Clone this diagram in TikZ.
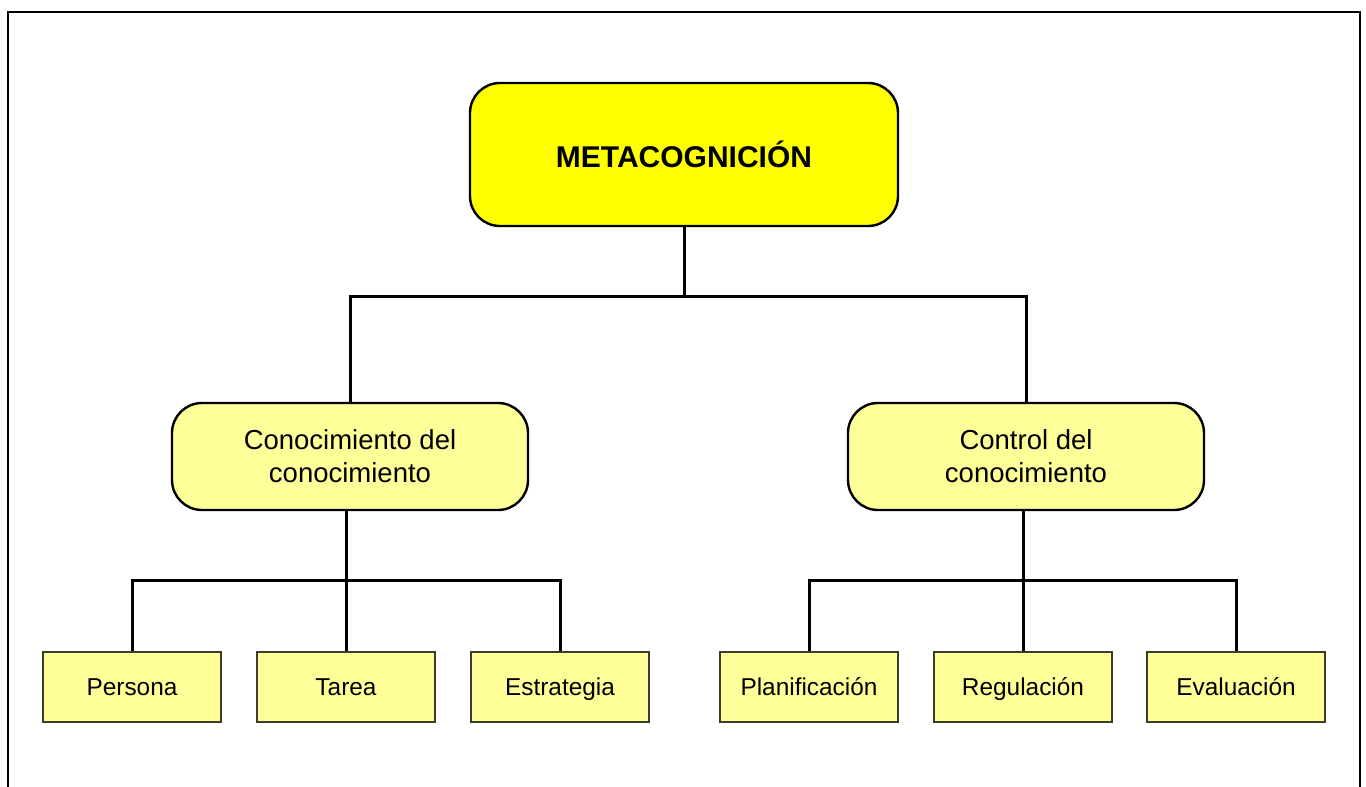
\documentclass[tikz,border=0pt]{standalone}
\usepackage{fontspec}
\setmainfont{Liberation Sans}
\definecolor{topyellow}{RGB}{255,255,0}
\definecolor{lightyellow}{RGB}{255,255,153}
\definecolor{leafedge}{RGB}{60,60,40}
\begin{document}
\begin{tikzpicture}[x=1pt,y=-1pt,
  topbox/.style={draw=black,line width=2.4pt,fill=topyellow,rounded corners=30pt,minimum width=428pt,minimum height=143pt,font=\fontsize{30}{36}\selectfont\bfseries,inner sep=0pt},
  midbox/.style={draw=black,line width=2.4pt,fill=lightyellow,rounded corners=30pt,minimum width=356pt,minimum height=107pt,font=\fontsize{27.5}{33}\selectfont,align=center,inner sep=0pt},
  leafbox/.style={draw=leafedge,line width=1.4pt,fill=lightyellow,minimum width=178pt,minimum height=70pt,font=\fontsize{24.4}{28}\selectfont,inner sep=0pt,text height=19pt,text depth=3pt},
  conn/.style={draw=black,line width=3pt}]
\useasboundingbox (0,0) rectangle (1366,787);
\draw[line width=2.2pt] (8,790) -- (8,12) -- (1360,12) -- (1360,790);
\node[topbox] (top) at (684,154.5) {METACOGNICIÓN};
\node[midbox] (cl) at (350,456.5) {Conocimiento del\\conocimiento};
\node[midbox] (cc) at (1026,456.5) {Control del\\conocimiento};
\node[leafbox] (p) at (132,687) {Persona};
\node[leafbox] (t) at (346,687) {Tarea};
\node[leafbox] (e) at (560,687) {Estrategia};
\node[leafbox] (pl) at (809,687) {Planificación};
\node[leafbox] (r) at (1023,687) {Regulación};
\node[leafbox] (ev) at (1236,687) {Evaluación};
\coordinate (j0) at (684,296);
\coordinate (j1) at (346,580);
\coordinate (j2) at (1023,580);
\draw[conn] (top.south) -- (j0);
\draw[conn] (j0) -| (cl.north);
\draw[conn] (j0) -| (cc.north);
\draw[conn] (cl.south -| j1) -- (j1);
\draw[conn] (j1) -| (p.north);
\draw[conn] (j1) -| (e.north);
\draw[conn] (j1) -- (t.north);
\draw[conn] (cc.south -| j2) -- (j2);
\draw[conn] (j2) -| (pl.north);
\draw[conn] (j2) -| (ev.north);
\draw[conn] (j2) -- (r.north);
\end{tikzpicture}
\end{document}
